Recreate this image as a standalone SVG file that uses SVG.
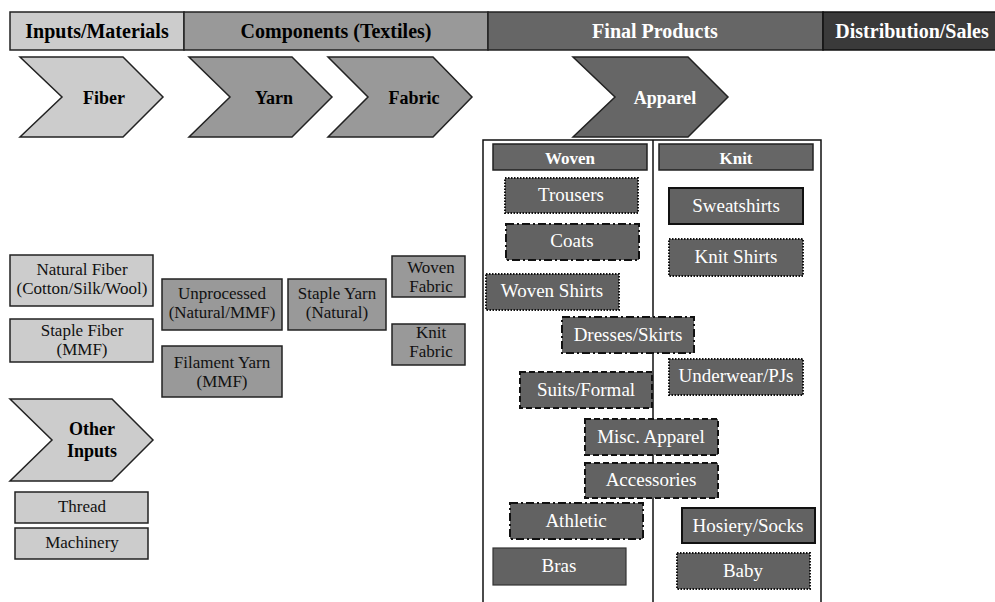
<svg xmlns="http://www.w3.org/2000/svg" width="995" height="602" viewBox="0 0 995 602" font-family="'Liberation Serif', 'Times New Roman', 'DejaVu Serif', serif">
<style>
text{font-family:'Liberation Serif','Times New Roman','DejaVu Serif',serif;text-anchor:middle}
.hd{font-size:20px;font-weight:bold}
.cv{font-size:18px;font-weight:bold}
.bx{font-size:17px;fill:#111}
.ap{font-size:19px;fill:#fff}
.ah{font-size:17px;font-weight:bold;fill:#fff}
.l1{fill:#cccccc;stroke:#222;stroke-width:1.5}
.l2{fill:#999999;stroke:#222;stroke-width:1.5}
.l3{fill:#666666;stroke:#222;stroke-width:1.5}
.l4{fill:#3a3a3a;stroke:#111;stroke-width:1.5}
.dot{fill:#626262;stroke:#111;stroke-width:2;stroke-dasharray:1.5 1.5}
.dd{fill:#626262;stroke:#111;stroke-width:2;stroke-dasharray:8 3 2 3}
.dsh{fill:#626262;stroke:#111;stroke-width:2;stroke-dasharray:6 3}
.sol{fill:#626262;stroke:#111;stroke-width:2}
.thin{fill:#626262;stroke:#333;stroke-width:1.2}
.frame{stroke:#111;stroke-width:1.5;fill:none}
</style>

<g id="header">
  <rect class="l1" x="10" y="12" width="174" height="38"/>
  <rect class="l2" x="184" y="12" width="304" height="38"/>
  <rect class="l3" x="488" y="12" width="335" height="38"/>
  <rect class="l4" x="823" y="12" width="175" height="38"/>
  <text class="hd" x="97" y="38">Inputs/Materials</text>
  <text class="hd" x="336" y="38">Components (Textiles)</text>
  <text class="hd" x="655" y="38" fill="#fff">Final Products</text>
  <text class="hd" x="912" y="38" fill="#fff">Distribution/Sales</text>
</g>

<g id="connectors">
  <path class="frame" d="M483,602 V140 H821 V602 M653,140 V602"/>
</g>

<g id="fiber">
  <polygon class="l1" points="20,57 123,57 163,97 123,137 20,137 62,97"/>
  <text class="cv" x="104" y="104">Fiber</text>
</g>
<g id="yarn">
  <polygon class="l2" points="189,57 292,57 332,97 292,137 189,137 230,97"/>
  <text class="cv" x="274" y="104">Yarn</text>
</g>
<g id="fabric">
  <polygon class="l2" points="328,57 433,57 472,97 433,137 328,137 368,97"/>
  <text class="cv" x="414" y="104">Fabric</text>
</g>
<g id="apparel">
  <polygon class="l3" points="573,57 688,57 728,97 688,137 573,137 615,97"/>
  <text class="cv" x="665" y="104" fill="#fff">Apparel</text>
</g>
<g id="other-inputs">
  <polygon class="l1" points="10,399 112,399 153,440 112,481 10,481 52,440"/>
  <text class="cv" x="92" y="435">Other</text>
  <text class="cv" x="92" y="457">Inputs</text>
</g>

<g id="natural-fiber">
  <rect class="l1" x="10" y="255" width="143" height="51"/>
  <text class="bx" x="82" y="275">Natural Fiber</text>
  <text class="bx" x="82" y="294">(Cotton/Silk/Wool)</text>
</g>
<g id="staple-fiber">
  <rect class="l1" x="10" y="319" width="143" height="43"/>
  <text class="bx" x="82" y="336">Staple Fiber</text>
  <text class="bx" x="82" y="355">(MMF)</text>
</g>
<g id="unprocessed">
  <rect class="l2" x="162" y="279" width="120" height="51"/>
  <text class="bx" x="222" y="299">Unprocessed</text>
  <text class="bx" x="222" y="318">(Natural/MMF)</text>
</g>
<g id="filament-yarn">
  <rect class="l2" x="162" y="346" width="120" height="51"/>
  <text class="bx" x="222" y="368">Filament Yarn</text>
  <text class="bx" x="222" y="387">(MMF)</text>
</g>
<g id="staple-yarn">
  <rect class="l2" x="288" y="279" width="98" height="51"/>
  <text class="bx" x="337" y="299">Staple Yarn</text>
  <text class="bx" x="337" y="318">(Natural)</text>
</g>
<g id="woven-fabric">
  <rect class="l2" x="392" y="256" width="73" height="41"/>
  <text class="bx" x="431" y="273">Woven</text>
  <text class="bx" x="431" y="292">Fabric</text>
</g>
<g id="knit-fabric">
  <rect class="l2" x="392" y="324" width="73" height="41"/>
  <text class="bx" x="431" y="338">Knit</text>
  <text class="bx" x="431" y="357">Fabric</text>
</g>
<g id="thread">
  <rect class="l1" x="15" y="492" width="133" height="31"/>
  <text class="bx" x="82" y="512">Thread</text>
</g>
<g id="machinery">
  <rect class="l1" x="15" y="528" width="133" height="31"/>
  <text class="bx" x="82" y="548">Machinery</text>
</g>

<g id="woven">
  <rect class="l3" x="493" y="144" width="154" height="26"/>
  <text class="ah" x="570" y="164">Woven</text>
</g>
<g id="knit">
  <rect class="l3" x="659" y="144" width="154" height="26"/>
  <text class="ah" x="736" y="164">Knit</text>
</g>
<g id="trousers">
  <rect class="dot" x="505" y="178" width="133" height="35"/>
  <text class="ap" x="571" y="201">Trousers</text>
</g>
<g id="coats">
  <rect class="dd" x="506" y="224" width="133" height="36"/>
  <text class="ap" x="572" y="247">Coats</text>
</g>
<g id="woven-shirts">
  <rect class="dot" x="486" y="274" width="133" height="36"/>
  <text class="ap" x="552" y="297">Woven Shirts</text>
</g>
<g id="sweatshirts">
  <rect class="sol" x="669" y="188" width="134" height="36"/>
  <text class="ap" x="736" y="212">Sweatshirts</text>
</g>
<g id="knit-shirts">
  <rect class="dot" x="669" y="239" width="134" height="37"/>
  <text class="ap" x="736" y="263">Knit Shirts</text>
</g>
<g id="dresses-skirts">
  <rect class="dd" x="562" y="317" width="132" height="36"/>
  <text class="ap" x="628" y="341">Dresses/Skirts</text>
</g>
<g id="underwear-pjs">
  <rect class="dot" x="669" y="359" width="134" height="36"/>
  <text class="ap" x="736" y="382">Underwear/PJs</text>
</g>
<g id="suits-formal">
  <rect class="dsh" x="520" y="372" width="132" height="36"/>
  <text class="ap" x="586" y="396">Suits/Formal</text>
</g>
<g id="misc-apparel">
  <rect class="dsh" x="585" y="419" width="133" height="36"/>
  <text class="ap" x="651" y="443">Misc. Apparel</text>
</g>
<g id="accessories">
  <rect class="dsh" x="585" y="463" width="133" height="35"/>
  <text class="ap" x="651" y="486">Accessories</text>
</g>
<g id="athletic">
  <rect class="dd" x="510" y="503" width="133" height="36"/>
  <text class="ap" x="576" y="527">Athletic</text>
</g>
<g id="hosiery-socks">
  <rect class="sol" x="682" y="508" width="133" height="35"/>
  <text class="ap" x="748" y="532">Hosiery/Socks</text>
</g>
<g id="bras">
  <rect class="thin" x="493" y="548" width="133" height="37"/>
  <text class="ap" x="559" y="572">Bras</text>
</g>
<g id="baby">
  <rect class="dot" x="677" y="553" width="133" height="36"/>
  <text class="ap" x="743" y="577">Baby</text>
</g>
</svg>
